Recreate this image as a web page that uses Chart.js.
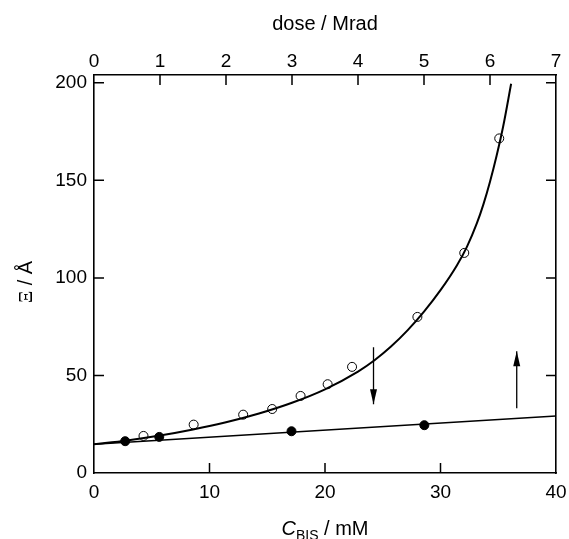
<!DOCTYPE html>
<html>
<head>
<meta charset="utf-8">
<title>Xi vs C_BIS and dose</title>
<script src="https://cdn.jsdelivr.net/npm/chart.js@4.4.0/dist/chart.umd.min.js"></script>
<style>
    body { margin: 0; background: #fff; }
</style>
</head>
<body>
<canvas id="stage" width="569" height="539"></canvas>
<script>
    // open circles: Xi against dose (top axis, Mrad)
    var doseX  = [0.75, 1.51, 2.26, 2.70, 3.13, 3.54, 3.91, 4.90, 5.61, 6.14];
    var doseXi = [19.0, 24.8, 29.9, 32.8, 39.5, 45.5, 54.4, 80.0, 112.8, 171.5];
    // fitted curve through the dose data
    var curveX  = [0, 0.5, 1, 1.5, 2, 2.5, 3, 3.5, 4, 4.25, 4.5, 4.75, 5, 5.25, 5.5, 5.65, 5.8, 5.9, 6.0, 6.1, 6.2, 6.32];
    var curveXi = [14.7, 16.7, 19.2, 22.3, 26.0, 30.5, 36.0, 42.9, 52.0, 57.8, 64.8, 73.1, 82.7, 93.7, 106.5, 115.9, 127.9, 137.7, 149.3, 162.6, 177.7, 199.5];
    // filled circles: Xi against C_BIS (bottom axis, mM)
    var bisX  = [2.7, 5.65, 17.1, 28.6];
    var bisXi = [16.3, 18.5, 21.4, 24.5];
    var lineX  = [0, 40];
    var lineXi = [14.7, 29.2];
    // arrows (C_BIS position, start, tip)
    var arrowDownX = [24.2, 24.2], arrowDownY = [64.5, 35.2];
    var arrowUpX   = [36.6, 36.6], arrowUpY   = [33.2, 62.4];
    // tick labels
    var bisTicks  = [0, 10, 20, 30, 40];
    var doseTicks = [0, 1, 2, 3, 4, 5, 6, 7];
    var xiTicks   = [0, 50, 100, 150, 200];

    var SANS = "'Liberation Sans', Arial, Helvetica, sans-serif";
    var SERIF = "'Liberation Serif', 'Times New Roman', serif";

    function pts(xs, ys) {
        return xs.map(function (x, i) { return { x: x, y: ys[i] }; });
    }
    function setTicks(arr) {
        return function (s) { s.ticks = arr.map(function (v) { return { value: v }; }); };
    }

    // tick marks pointing into the plot box
    var innerTicks = {
        id: 'innerTicks',
        afterDatasetsDraw: function (chart) {
            var ctx = chart.ctx, a = chart.chartArea, L = 10;
            ctx.save();
            ctx.strokeStyle = '#000';
            ctx.lineWidth = 1.5;
            ctx.beginPath();
            ['x', 'x2', 'y', 'y2'].forEach(function (id) {
                var s = chart.scales[id];
                s.ticks.forEach(function (t) {
                    var p = s.getPixelForValue(t.value), d;
                    if (s.isHorizontal()) {
                        if (Math.abs(p - a.left) < 2 || Math.abs(p - a.right) < 2) return;
                        var y0 = s.position === 'bottom' ? a.bottom : a.top;
                        d = s.position === 'bottom' ? -L : L;
                        ctx.moveTo(p, y0); ctx.lineTo(p, y0 + d);
                    } else {
                        if (Math.abs(p - a.top) < 2 || Math.abs(p - a.bottom) < 2) return;
                        var x0 = s.position === 'left' ? a.left : a.right;
                        d = s.position === 'left' ? L : -L;
                        ctx.moveTo(x0, p); ctx.lineTo(x0 + d, p);
                    }
                });
            });
            ctx.stroke();

            // arrow heads on the two arrow datasets
            [4, 5].forEach(function (i) {
                var m = chart.getDatasetMeta(i);
                var b = m.data[0], t = m.data[1];
                var dir = t.y < b.y ? 1 : -1;
                ctx.beginPath();
                ctx.moveTo(t.x, t.y);
                ctx.lineTo(t.x - 3.5, t.y + dir * 15);
                ctx.lineTo(t.x + 3.5, t.y + dir * 15);
                ctx.closePath();
                ctx.fillStyle = '#000';
                ctx.fill();
            });
            ctx.restore();
        }
    };

    // axis titles
    var axisTitles = {
        id: 'axisTitles',
        afterDraw: function (chart) {
            var ctx = chart.ctx, a = chart.chartArea;
            var cx = (a.left + a.right) / 2;
            ctx.save();
            ctx.fillStyle = '#000';
            ctx.textBaseline = 'alphabetic';

            ctx.font = '20px ' + SANS;
            ctx.textAlign = 'center';
            ctx.fillText('dose / Mrad', cx, 30);

            // C_BIS / mM
            ctx.textAlign = 'left';
            var fC = 'italic 20px ' + SANS, fS = '14px ' + SANS, fN = '20px ' + SANS;
            ctx.font = fC; var wC = ctx.measureText('C').width;
            ctx.font = fS; var wS = ctx.measureText('BIS').width;
            ctx.font = fN; var wN = ctx.measureText(' / mM').width;
            var x0 = cx - (wC + wS + wN) / 2;
            ctx.font = fC; ctx.fillText('C', x0, 535);
            ctx.font = fS; ctx.fillText('BIS', x0 + wC, 540);
            ctx.font = fN; ctx.fillText(' / mM', x0 + wC + wS, 535);

            // Xi / Å, rotated
            ctx.translate(32, 282);
            ctx.rotate(-Math.PI / 2);
            ctx.font = '19px ' + SERIF; var wX = ctx.measureText('Ξ').width;
            ctx.font = fN; var wA = ctx.measureText(' / Å').width;
            var s0 = -(wX + wA) / 2;
            ctx.font = '19px ' + SERIF; ctx.fillText('Ξ', s0, 0);
            ctx.font = fN; ctx.fillText(' / Å', s0 + wX, 0);
            ctx.restore();
        }
    };

    var tickFont = { size: 19, family: SANS };

    var canvas = document.getElementById('stage');
    var chart = new Chart(canvas, {
        type: 'scatter',
        data: {
            datasets: [
                {
                    label: 'dose', xAxisID: 'x2', data: pts(doseX, doseXi),
                    pointRadius: 4.5, pointBorderWidth: 1, borderColor: '#000',
                    backgroundColor: 'rgba(0,0,0,0)', showLine: false
                },
                {
                    label: 'C_BIS', xAxisID: 'x', data: pts(bisX, bisXi),
                    pointRadius: 4.5, pointBorderWidth: 1, borderColor: '#000',
                    backgroundColor: '#000', showLine: false
                },
                {
                    type: 'line', label: 'curve', xAxisID: 'x2', data: pts(curveX, curveXi),
                    borderColor: '#000', borderWidth: 2, pointRadius: 0,
                    cubicInterpolationMode: 'monotone', fill: false
                },
                {
                    type: 'line', label: 'line', xAxisID: 'x', data: pts(lineX, lineXi),
                    borderColor: '#000', borderWidth: 1.6, pointRadius: 0, fill: false
                },
                {
                    type: 'line', label: 'down', xAxisID: 'x', data: pts(arrowDownX, arrowDownY),
                    borderColor: '#000', borderWidth: 1.3, pointRadius: 0, fill: false
                },
                {
                    type: 'line', label: 'up', xAxisID: 'x', data: pts(arrowUpX, arrowUpY),
                    borderColor: '#000', borderWidth: 1.3, pointRadius: 0, fill: false
                }
            ]
        },
        options: {
            responsive: false,
            animation: false,
            layout: { padding: 0 },
            plugins: { legend: { display: false }, tooltip: { enabled: false } },
            scales: {
                x: {
                    type: 'linear', position: 'bottom', min: 0, max: 40,
                    afterBuildTicks: setTicks(bisTicks),
                    afterFit: function (s) { s.height = 66; s.paddingLeft = 0; s.paddingRight = 0; },
                    grid: { display: false, drawTicks: false },
                    border: { display: true, color: '#000', width: 1.6 },
                    ticks: { color: '#000', font: tickFont, padding: 8, maxRotation: 0, autoSkip: false }
                },
                x2: {
                    type: 'linear', position: 'top', min: 0, max: 7,
                    afterBuildTicks: setTicks(doseTicks),
                    afterFit: function (s) { s.height = 75; s.paddingLeft = 0; s.paddingRight = 0; },
                    grid: { display: false, drawTicks: false },
                    border: { display: true, color: '#000', width: 1.6 },
                    ticks: { color: '#000', font: tickFont, padding: 2, maxRotation: 0, autoSkip: false }
                },
                y: {
                    type: 'linear', position: 'left', min: 0, max: 204,
                    afterBuildTicks: setTicks(xiTicks),
                    afterFit: function (s) { s.width = 94; s.paddingTop = 0; s.paddingBottom = 0; },
                    grid: { display: false, drawTicks: false },
                    border: { display: true, color: '#000', width: 1.6 },
                    ticks: { color: '#000', font: tickFont, padding: 7, autoSkip: false }
                },
                y2: {
                    type: 'linear', position: 'right', min: 0, max: 204,
                    afterBuildTicks: setTicks(xiTicks),
                    afterFit: function (s) { s.width = 13; s.paddingTop = 0; s.paddingBottom = 0; },
                    grid: { display: false, drawTicks: false },
                    border: { display: true, color: '#000', width: 1.6 },
                    ticks: { display: false }
                }
            }
        },
        plugins: [innerTicks, axisTitles]
    });
</script>
</body>
</html>
